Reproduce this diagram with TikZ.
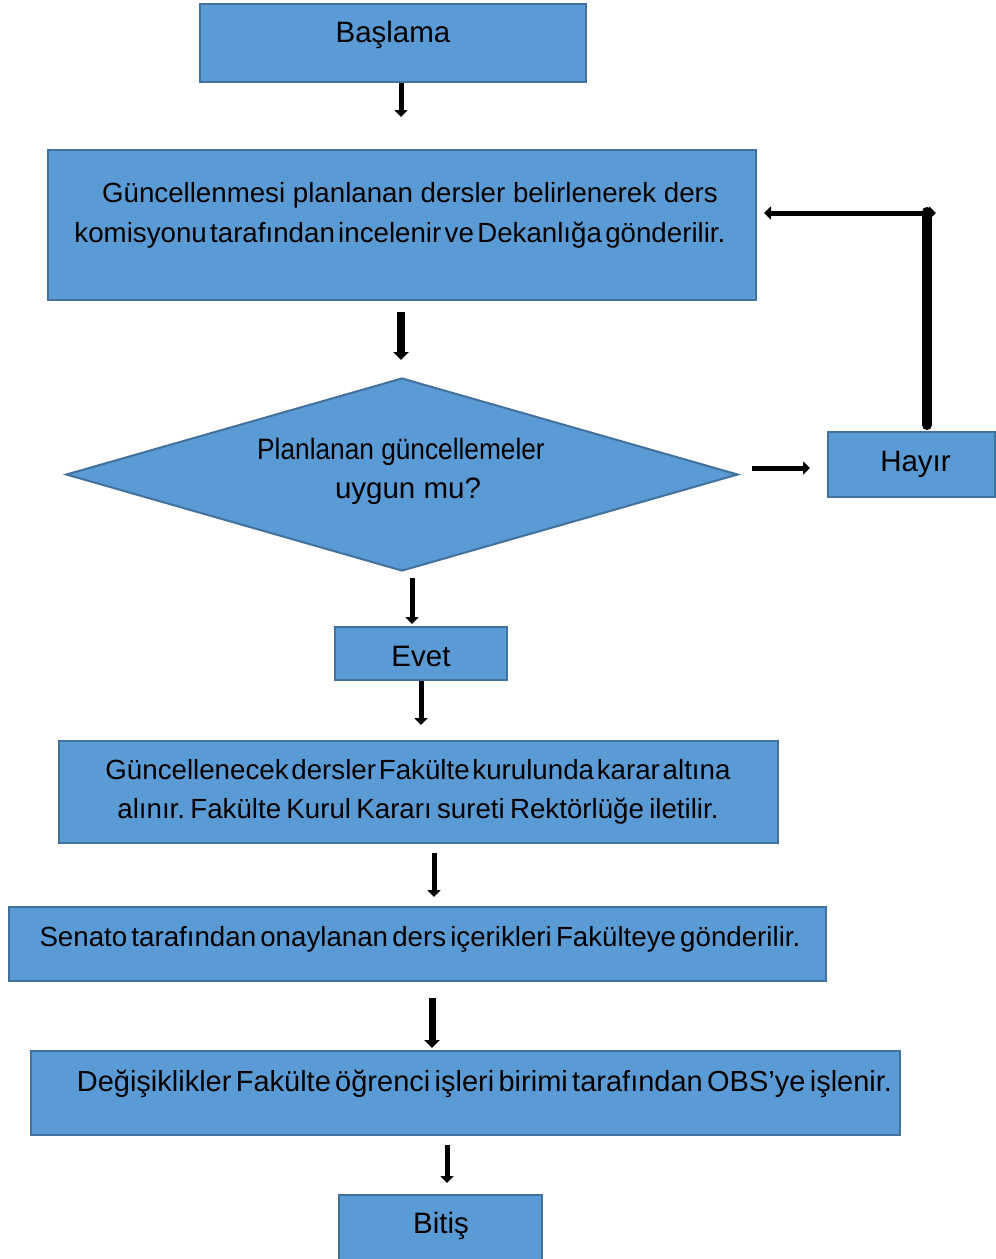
\documentclass[tikz,border=0pt]{standalone}
\usepackage{fontspec}
\setmainfont{Liberation Sans}
\usetikzlibrary{arrows.meta,shapes.geometric}
\definecolor{boxfill}{HTML}{5B9BD5}
\definecolor{boxline}{HTML}{41719C}
\tikzset{
  stepbox/.style={draw=boxline, fill=boxfill, line width=2pt, rectangle, inner sep=0pt},
  txt/.style={font=\fontsize{27.7}{40}\selectfont\frenchspacing, align=center, inner sep=0pt, text=black},
  bigtxt/.style={txt, font=\fontsize{29.5}{40}\selectfont\frenchspacing},
  flow/.style={line width=5pt, -{Triangle[width=13pt,length=7pt]}},
  bigflow/.style={line width=8pt, -{Triangle[width=15pt,length=8pt]}},
}
\begin{document}
\begin{tikzpicture}[x=1pt,y=-1pt]
\clip (0,0) rectangle (996,1259);
\fill[white] (0,0) rectangle (996,1259);

% process boxes
\node[stepbox, minimum width=386pt, minimum height=78pt] (start) at (393,43) {};
\node[stepbox, minimum width=708pt, minimum height=150pt] (review) at (402,225) {};
\node[stepbox, diamond, minimum width=672pt, minimum height=193pt, aspect=3.48] (check) at (402,474.5) {};
\node[stepbox, minimum width=167pt, minimum height=65pt] (no) at (911.5,464.5) {};
\node[stepbox, minimum width=172pt, minimum height=53pt] (yes) at (421,653.5) {};
\node[stepbox, minimum width=719pt, minimum height=102pt] (faculty) at (418.5,792) {};
\node[stepbox, minimum width=817pt, minimum height=74pt] (senate) at (417.5,944) {};
\node[stepbox, minimum width=869pt, minimum height=84pt] (obs) at (465.5,1093) {};
\node[stepbox, minimum width=203pt, minimum height=70pt] (finish) at (440.5,1230) {};

% labels
\node[bigtxt] (tstart) at (393,35) {Başlama};
\node[txt] (treview) at (400,215.5) {\hspace*{20pt}Güncellenmesi planlanan dersler belirlenerek ders\\[0.5pt]
  {\spaceskip=0.12em komisyonu tarafından incelenir ve Dekanlığa gönderilir.}};
\node[bigtxt] (tcheck) at (401,471) {\scalebox{0.89}[1]{Planlanan güncellemeler}\\[-1pt]\hspace*{14pt}uygun mu?};
\node[bigtxt] (tno) at (915.5,464) {Hayır};
\node[bigtxt] (tyes) at (421,656.5) {Evet};
\node[txt] (tfaculty) at (418,792) {{\spaceskip=0.1em Güncellenecek dersler Fakülte kurulunda karar altına}\\[-1pt]
  {\spaceskip=0.19em alınır. Fakülte Kurul Kararı sureti Rektörlüğe iletilir.}};
\node[txt] (tsenate) at (420,939.5) {{\spaceskip=0.15em Senato tarafından onaylanan ders içerikleri Fakülteye gönderilir.}};
\node[txt, font=\fontsize{29}{40}\selectfont] (tobs) at (484.5,1084) {{\spaceskip=0.15em Değişiklikler Fakülte öğrenci işleri birimi tarafından OBS’ye işlenir.}};
\node[bigtxt] (tfinish) at (441,1226) {Bitiş};

% free ends of the connectors
\coordinate (a1) at (401,117);
\coordinate (a2s) at (401,312);
\coordinate (a2e) at (401,360);
\coordinate (a3s) at (412,578);
\coordinate (a3e) at (412,624);
\coordinate (a4e) at (421,725);
\coordinate (a5s) at (434,853);
\coordinate (a5e) at (434,897);
\coordinate (a6s) at (432,998);
\coordinate (a6e) at (432,1048);
\coordinate (a7s) at (447,1145);
\coordinate (a7e) at (447,1183);
\coordinate (a8s) at (752,468);
\coordinate (a8e) at (810,468);
\coordinate (fbLow) at (927,425);
\coordinate (fbHigh) at (927,212);
\coordinate (fbCorner) at (936,213);
\coordinate (fbEnd) at (764,213);

% connectors
\draw[flow] (start.south -| a1) -- (a1);
\draw[bigflow] (a2s) -- (a2e);
\draw[flow] (a3s) -- (a3e);
\draw[flow] (yes.south -| a4e) -- (a4e);
\draw[flow] (a5s) -- (a5e);
\draw[bigflow, line width=7pt] (a6s) -- (a6e);
\draw[flow] (a7s) -- (a7e);
\draw[flow] (a8s) -- (a8e);
\draw[line width=10pt, line cap=round] (fbLow) -- (fbHigh);
\draw[line width=5pt, {Triangle[width=13pt,length=7pt]}-{Triangle[width=13pt,length=7pt]}] (fbCorner) -- (fbEnd);
\end{tikzpicture}
\end{document}
